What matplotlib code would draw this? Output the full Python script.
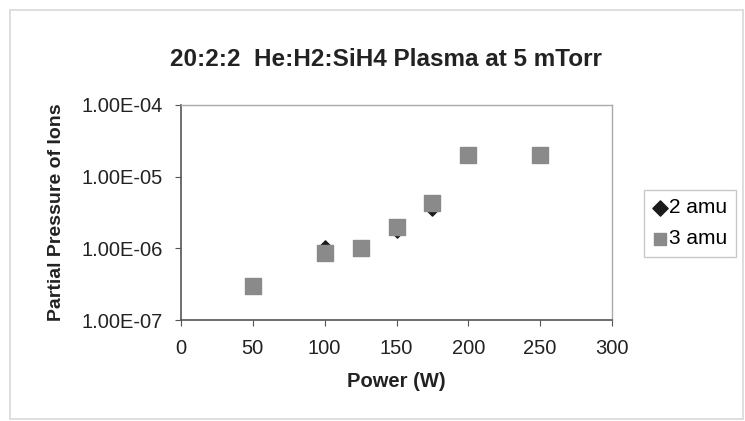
import matplotlib.pyplot as plt
from matplotlib.patches import Rectangle
from matplotlib.ticker import FixedLocator, NullLocator

# data
power = [50, 100, 125, 150, 175, 200, 250]
amu2 = [3.0e-7, 1.0e-6, 1.0e-6, 1.8e-6, 3.6e-6, 2.0e-5, 2.0e-5]
amu3 = [3.0e-7, 8.5e-7, 1.0e-6, 2.0e-6, 4.3e-6, 2.0e-5, 2.0e-5]
yticks = [1e-7, 1e-6, 1e-5, 1e-4]
ylabels = ["1.00E-07", "1.00E-06", "1.00E-05", "1.00E-04"]

plt.rcParams['font.family'] = ['Liberation Sans', 'DejaVu Sans']

fig = plt.figure(figsize=(7.45, 4.21), dpi=100)
# outer chart frame
fig.patches.append(Rectangle((10 / 745, 2 / 421), 733 / 745, 409 / 421,
                             transform=fig.transFigure, fill=False,
                             edgecolor='#d8d8d8', linewidth=1.2))

ax = fig.add_axes([181 / 745, 101 / 421, 431 / 745, 215 / 421])
ax.scatter(power, amu2, marker='D', s=60, color='#1a1a1a', label='2 amu', zorder=3)
ax.scatter(power, amu3, marker='s', s=130, color='#8a8a8a', label='3 amu', zorder=4)

ax.set_yscale('log')
ax.set_ylim(1e-7, 1e-4)
ax.set_xlim(0, 300)
ax.yaxis.set_major_locator(FixedLocator(yticks))
ax.set_yticklabels(ylabels)
ax.yaxis.set_minor_locator(NullLocator())
ax.set_xticks(range(0, 301, 50))

for side in ['left', 'bottom']:
    ax.spines[side].set_color('#555555')
    ax.spines[side].set_linewidth(1.2)
for side in ['top', 'right']:
    ax.spines[side].set_color('#aaaaaa')
    ax.spines[side].set_linewidth(1.0)
ax.tick_params(axis='both', labelsize=14.5, color='#555555', length=4,
               labelcolor='#222222')
ax.tick_params(axis='x', pad=10)
ax.tick_params(axis='y', pad=9)

ax.set_xlabel('Power (W)', fontsize=14.5, fontweight='bold', labelpad=10,
              color='#222222')
ax.set_ylabel('Partial Pressure of Ions', fontsize=14, fontweight='bold',
              labelpad=12, color='#222222')
fig.text(386 / 745, 1 - 60 / 421, '20:2:2  He:H2:SiH4 Plasma at 5 mTorr',
         ha='center', va='center', fontsize=17.5, fontweight='bold', color='#222222')

leg = ax.legend(loc='center left', bbox_to_anchor=(1.075, 0.45), frameon=True,
                fancybox=False, edgecolor='#bbbbbb', fontsize=15,
                handletextpad=0.1, handlelength=0.7, borderpad=0.4,
                labelspacing=0.6, borderaxespad=0)
leg.get_frame().set_linewidth(1.0)
leg.legend_handles[0].set_sizes([60])
leg.legend_handles[1].set_sizes([70])

fig.savefig('out.png', dpi=100)
